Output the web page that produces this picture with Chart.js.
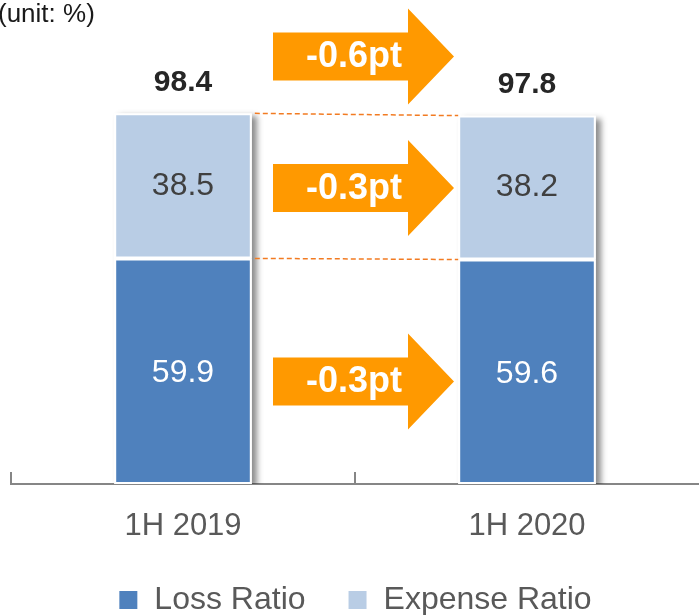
<!DOCTYPE html>
<html>
<head>
<meta charset="utf-8">
<script src="https://cdn.jsdelivr.net/npm/chart.js@4"></script>
<style>
html, body { margin: 0; padding: 0; background: #fff; }
#wrap { position: relative; width: 699px; height: 615px; }
</style>
</head>
<body>
<div id="wrap"><canvas id="ratioChart"></canvas></div>
<script>
const periods = ['1H 2019', '1H 2020'];
const lossRatio = [59.9, 59.6];
const expenseRatio = [38.5, 38.2];
const combinedRatio = [98.4, 97.8];
const changeLabels = ['-0.6pt', '-0.3pt', '-0.3pt'];
const unitText = '(unit: %)';

const FONT = '"Liberation Sans", Arial, sans-serif';
const ORANGE = '#FF9900';

// drop shadow behind each stacked column
const shadowPlugin = {
    id: 'columnShadow',
    beforeDatasetsDraw(chart) {
        const ctx = chart.ctx;
        const area = chart.chartArea;
        const lower = chart.getDatasetMeta(0).data;
        const upper = chart.getDatasetMeta(1).data;
        ctx.save();
        ctx.beginPath();
        ctx.rect(area.left, 0, area.right - area.left, area.bottom);
        ctx.clip();
        ctx.shadowColor = 'rgba(0,0,0,0.45)';
        ctx.shadowBlur = 6;
        ctx.shadowOffsetX = 5;
        ctx.shadowOffsetY = 3;
        ctx.fillStyle = '#fff';
        lower.forEach((bar, i) => {
            const top = upper[i].y;
            ctx.fillRect(bar.x - bar.width / 2, top, bar.width, bar.base - top);
        });
        ctx.restore();
    }
};

// short upward tick marks on the category axis
const tickPlugin = {
    id: 'axisTicks',
    afterDraw(chart) {
        const ctx = chart.ctx;
        const x = chart.scales.x;
        const bottom = chart.chartArea.bottom;
        const marks = [chart.chartArea.left, (x.getPixelForValue(0) + x.getPixelForValue(1)) / 2];
        ctx.save();
        ctx.strokeStyle = '#868686';
        ctx.lineWidth = 2;
        marks.forEach(px => {
            ctx.beginPath();
            ctx.moveTo(px, bottom - 12);
            ctx.lineTo(px, bottom);
            ctx.stroke();
        });
        ctx.restore();
    }
};

function drawArrow(ctx, left, headBase, tip, cy, bodyHalf, headHalf) {
    ctx.beginPath();
    ctx.moveTo(left, cy - bodyHalf);
    ctx.lineTo(headBase, cy - bodyHalf);
    ctx.lineTo(headBase, cy - headHalf);
    ctx.lineTo(tip, cy);
    ctx.lineTo(headBase, cy + headHalf);
    ctx.lineTo(headBase, cy + bodyHalf);
    ctx.lineTo(left, cy + bodyHalf);
    ctx.closePath();
    ctx.fill();
}

const labelPlugin = {
    id: 'valueLabels',
    afterDatasetsDraw(chart) {
        const ctx = chart.ctx;
        const y = chart.scales.y;
        const lower = chart.getDatasetMeta(0).data;
        const upper = chart.getDatasetMeta(1).data;
        ctx.save();
        ctx.textAlign = 'center';
        ctx.textBaseline = 'middle';
        lower.forEach((bar, i) => {
            ctx.font = '32px ' + FONT;
            ctx.fillStyle = '#ffffff';
            ctx.fillText(lossRatio[i].toFixed(1), bar.x, (bar.y + bar.base) / 2 + 2);
            const up = upper[i];
            ctx.fillStyle = '#404040';
            ctx.fillText(expenseRatio[i].toFixed(1), up.x, (up.y + up.base) / 2);
            ctx.font = 'bold 30px ' + FONT;
            ctx.fillStyle = '#262626';
            ctx.fillText(combinedRatio[i].toFixed(1), up.x, y.getPixelForValue(combinedRatio[i]) - 31);
        });

        // dashed connectors between the two columns
        ctx.strokeStyle = '#F27B22';
        ctx.lineWidth = 1.5;
        ctx.setLineDash([5, 3]);
        const x0 = lower[0].x + lower[0].width / 2 + 3;
        const x1 = lower[1].x - lower[1].width / 2;
        [[combinedRatio[0], combinedRatio[1]], [lossRatio[0], lossRatio[1]]].forEach(pair => {
            ctx.beginPath();
            ctx.moveTo(x0, y.getPixelForValue(pair[0]));
            ctx.lineTo(x1, y.getPixelForValue(pair[1]));
            ctx.stroke();
        });
        ctx.restore();
    },
    afterDraw(chart) {
        const ctx = chart.ctx;
        const x = chart.scales.x;
        const y = chart.scales.y;
        const mid = (x.getPixelForValue(0) + x.getPixelForValue(1)) / 2;
        const levels = [113.5, 78.6, 27.2];
        ctx.save();
        levels.forEach((lv, i) => {
            const cy = y.getPixelForValue(lv);
            ctx.fillStyle = ORANGE;
            drawArrow(ctx, mid - 82, mid + 53, mid + 99, cy, 24, 48);
            ctx.fillStyle = '#ffffff';
            ctx.font = 'bold 36px ' + FONT;
            ctx.textAlign = 'center';
            ctx.textBaseline = 'middle';
            ctx.fillText(changeLabels[i], mid - 1, cy + 1);
        });
        ctx.font = '26px ' + FONT;
        ctx.fillStyle = '#1a1a1a';
        ctx.textAlign = 'left';
        ctx.textBaseline = 'top';
        ctx.fillText(unitText, -2, 2);
        ctx.restore();
    }
};

const ctx = document.getElementById('ratioChart').getContext('2d');
const chart = new Chart(ctx, {
    type: 'bar',
    data: {
        labels: periods,
        datasets: [{
            label: 'Loss Ratio',
            data: lossRatio,
            backgroundColor: '#4F81BD',
            borderColor: '#ffffff',
            borderWidth: 2,
            borderSkipped: false
        }, {
            label: 'Expense Ratio',
            data: expenseRatio,
            backgroundColor: '#B9CDE5',
            borderColor: '#ffffff',
            borderWidth: 2,
            borderSkipped: false
        }]
    },
    options: {
        responsive: true,
        maintainAspectRatio: false,
        animation: false,
        barPercentage: 0.4,
        categoryPercentage: 1.0,
        layout: { padding: { top: 32, left: 11, right: 0, bottom: 0 } },
        plugins: {
            tooltip: { enabled: false },
            legend: {
                position: 'bottom',
                maxHeight: 73,
                labels: {
                    boxWidth: 20,
                    boxHeight: 20,
                    padding: 42,
                    color: '#595959',
                    font: { family: FONT, size: 32 }
                }
            }
        },
        scales: {
            x: {
                stacked: true,
                afterFit(scale) { scale.height = 58; },
                grid: { display: false, drawTicks: false },
                border: { display: true, color: '#868686', width: 2 },
                ticks: {
                    color: '#595959',
                    padding: 24,
                    font: { family: FONT, size: 31 }
                }
            },
            y: {
                stacked: true,
                display: false,
                min: 0,
                max: 120
            }
        }
    },
    plugins: [shadowPlugin, labelPlugin, tickPlugin]
});
</script>
</body>
</html>
